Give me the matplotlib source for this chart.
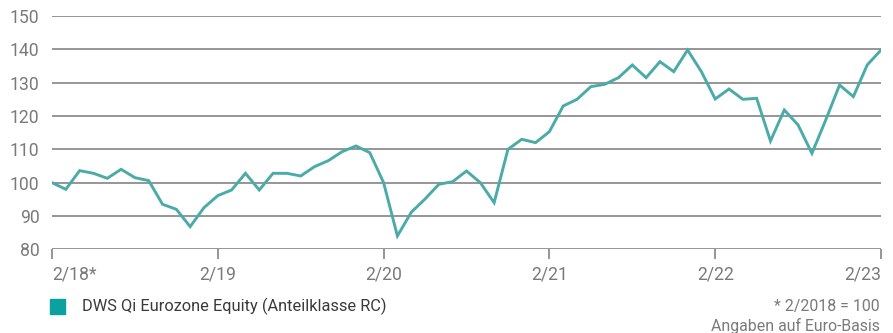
import matplotlib.pyplot as plt
from matplotlib.patches import Rectangle

# Monthly index values, 2/2018 = 100
values = [100, 98, 103.6, 102.8, 101.3, 104, 101.5, 100.6, 93.5, 92, 86.8, 92.5,
          96.1, 97.8, 102.8, 97.8, 102.8, 102.8, 102, 104.8, 106.6, 109.3, 111, 109,
          100, 84, 91.1, 95.1, 99.5, 100.3, 103.5, 100, 94, 110, 113, 112,
          115.3, 123, 125, 128.8, 129.5, 131.5, 135.3, 131.5, 136.3, 133.3, 139.8, 133.3,
          125.1, 128.1, 125, 125.3, 112.5, 121.8, 117.3, 108.8, 118.8, 129.3, 125.8, 135.3,
          139.8]
tick_labels = ['2/18*', '2/19', '2/20', '2/21', '2/22', '2/23']
y_ticks = [80, 90, 100, 110, 120, 130, 140, 150]
series_name = 'DWS Qi Eurozone Equity (Anteilklasse RC)'
notes = ['* 2/2018 = 100', 'Angaben auf Euro-Basis']

plt.rcParams['font.family'] = ['Roboto', 'DejaVu Sans']
text_col = '#7a7a7a'
grid_col = '#8e8e8e'
line_col = '#4aaba9'

fig = plt.figure(figsize=(8.93, 3.33), dpi=100)
W, H = 893, 333
ax = fig.add_axes([52 / W, 1 - 249.3 / H, (881 - 52) / W, (249.3 - 16) / H])

months = range(len(values))
for y in y_ticks:
    ax.axhline(y, color=grid_col, lw=1.3, zorder=1)
ax.plot(months, values, color=line_col, lw=2.1, zorder=3, solid_joinstyle='miter')

ax.set_xlim(0, 60)
ax.set_ylim(80, 150)
for s in ax.spines.values():
    s.set_visible(False)

ax.set_yticks(y_ticks)
ax.set_yticklabels([str(v) for v in y_ticks])
ax.tick_params(axis='y', length=0, pad=9, labelsize=12.7, labelcolor=text_col)

xt = [12 * i for i in range(len(tick_labels))]
ax.set_xticks(xt)
ax.set_xticklabels(tick_labels)
ax.tick_params(axis='x', length=7, width=1.3, color=grid_col, pad=5,
               labelsize=12.7, labelcolor=text_col)
xl = ax.get_xticklabels()
xl[0].set_horizontalalignment('left')
xl[-1].set_horizontalalignment('right')

# legend
fig.patches.append(Rectangle((50 / W, 1 - 314 / H), 15 / W, 15 / H,
                             transform=fig.transFigure, color='#0aa19f'))
fig.text(82 / W, 1 - 306 / H, series_name, fontsize=11.8, color='#3a3a3a',
         va='center', ha='left')
fig.text(880 / W, 1 - 306.5 / H, notes[0], fontsize=11.4, color=text_col,
         va='center', ha='right')
fig.text(880 / W, 1 - 325.5 / H, notes[1], fontsize=11.4, color=text_col,
         va='center', ha='right')

fig.savefig('out.png', dpi=100)
